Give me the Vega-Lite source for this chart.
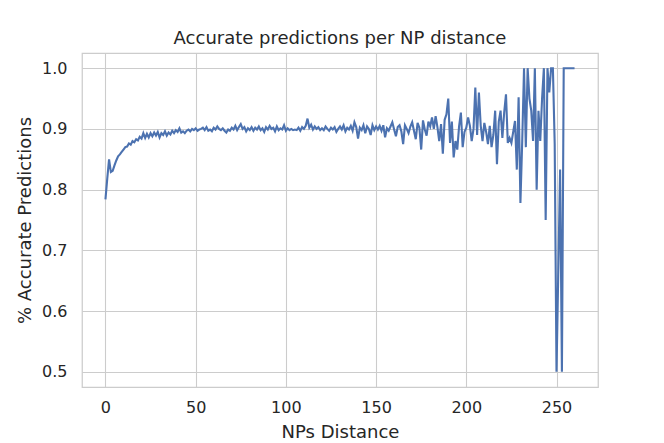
{
  "$schema": "https://vega.github.io/schema/vega-lite/v6.json",
  "width": 516,
  "height": 334,
  "autosize": {"type": "none"},
  "padding": {"left": 82, "top": 53, "right": 66, "bottom": 56},
  "background": "white",
  "title": {
    "text": "Accurate predictions per NP distance",
    "font": "DejaVu Sans",
    "fontSize": 18,
    "fontWeight": "normal",
    "color": "#262626",
    "anchor": "middle",
    "offset": 5
  },
  "config": {
    "view": {"stroke": "#cccccc", "strokeWidth": 1.25},
    "axis": {
      "domain": false,
      "ticks": false,
      "grid": true,
      "gridColor": "#cccccc",
      "gridWidth": 1.1,
      "labelFont": "DejaVu Sans",
      "labelFontSize": 16,
      "labelColor": "#262626",
      "titleFont": "DejaVu Sans",
      "titleFontSize": 18,
      "titleFontWeight": "normal",
      "titleColor": "#262626"
    }
  },
  "data": {
    "values": [
      {"d": 0, "acc": 0.784}, {"d": 1, "acc": 0.818}, {"d": 2, "acc": 0.850}, {"d": 3, "acc": 0.829},
      {"d": 4, "acc": 0.831}, {"d": 5, "acc": 0.840}, {"d": 6, "acc": 0.848}, {"d": 7, "acc": 0.855},
      {"d": 8, "acc": 0.858}, {"d": 9, "acc": 0.862}, {"d": 10, "acc": 0.866}, {"d": 11, "acc": 0.870},
      {"d": 12, "acc": 0.871}, {"d": 13, "acc": 0.876}, {"d": 14, "acc": 0.874}, {"d": 15, "acc": 0.880},
      {"d": 16, "acc": 0.878}, {"d": 17, "acc": 0.883}, {"d": 18, "acc": 0.881}, {"d": 19, "acc": 0.887},
      {"d": 20, "acc": 0.884}, {"d": 21, "acc": 0.893}, {"d": 22, "acc": 0.885}, {"d": 23, "acc": 0.892},
      {"d": 24, "acc": 0.886}, {"d": 25, "acc": 0.893}, {"d": 26, "acc": 0.888}, {"d": 27, "acc": 0.894},
      {"d": 28, "acc": 0.889}, {"d": 29, "acc": 0.895}, {"d": 30, "acc": 0.886}, {"d": 31, "acc": 0.893},
      {"d": 32, "acc": 0.890}, {"d": 33, "acc": 0.896}, {"d": 34, "acc": 0.889}, {"d": 35, "acc": 0.894},
      {"d": 36, "acc": 0.891}, {"d": 37, "acc": 0.897}, {"d": 38, "acc": 0.893}, {"d": 39, "acc": 0.898},
      {"d": 40, "acc": 0.895}, {"d": 41, "acc": 0.901}, {"d": 42, "acc": 0.894}, {"d": 43, "acc": 0.896},
      {"d": 44, "acc": 0.893}, {"d": 45, "acc": 0.897}, {"d": 46, "acc": 0.899}, {"d": 47, "acc": 0.896},
      {"d": 48, "acc": 0.900}, {"d": 49, "acc": 0.898}, {"d": 50, "acc": 0.901}, {"d": 51, "acc": 0.897},
      {"d": 52, "acc": 0.899}, {"d": 53, "acc": 0.900}, {"d": 54, "acc": 0.902}, {"d": 55, "acc": 0.898},
      {"d": 56, "acc": 0.903}, {"d": 57, "acc": 0.897}, {"d": 58, "acc": 0.899}, {"d": 59, "acc": 0.896},
      {"d": 60, "acc": 0.902}, {"d": 61, "acc": 0.899}, {"d": 62, "acc": 0.904}, {"d": 63, "acc": 0.900},
      {"d": 64, "acc": 0.898}, {"d": 65, "acc": 0.901}, {"d": 66, "acc": 0.897}, {"d": 67, "acc": 0.894},
      {"d": 68, "acc": 0.899}, {"d": 69, "acc": 0.897}, {"d": 70, "acc": 0.902}, {"d": 71, "acc": 0.899},
      {"d": 72, "acc": 0.905}, {"d": 73, "acc": 0.898}, {"d": 74, "acc": 0.903}, {"d": 75, "acc": 0.908},
      {"d": 76, "acc": 0.900}, {"d": 77, "acc": 0.903}, {"d": 78, "acc": 0.896}, {"d": 79, "acc": 0.901},
      {"d": 80, "acc": 0.898}, {"d": 81, "acc": 0.903}, {"d": 82, "acc": 0.897}, {"d": 83, "acc": 0.902},
      {"d": 84, "acc": 0.899}, {"d": 85, "acc": 0.904}, {"d": 86, "acc": 0.898}, {"d": 87, "acc": 0.901},
      {"d": 88, "acc": 0.895}, {"d": 89, "acc": 0.903}, {"d": 90, "acc": 0.899}, {"d": 91, "acc": 0.905},
      {"d": 92, "acc": 0.900}, {"d": 93, "acc": 0.902}, {"d": 94, "acc": 0.896}, {"d": 95, "acc": 0.904},
      {"d": 96, "acc": 0.898}, {"d": 97, "acc": 0.901}, {"d": 98, "acc": 0.899}, {"d": 99, "acc": 0.906},
      {"d": 100, "acc": 0.897}, {"d": 101, "acc": 0.901}, {"d": 102, "acc": 0.898}, {"d": 103, "acc": 0.900},
      {"d": 104, "acc": 0.898}, {"d": 105, "acc": 0.899}, {"d": 106, "acc": 0.898}, {"d": 107, "acc": 0.902},
      {"d": 108, "acc": 0.897}, {"d": 109, "acc": 0.903}, {"d": 110, "acc": 0.900}, {"d": 111, "acc": 0.905},
      {"d": 112, "acc": 0.917}, {"d": 113, "acc": 0.902}, {"d": 114, "acc": 0.907}, {"d": 115, "acc": 0.899},
      {"d": 116, "acc": 0.904}, {"d": 117, "acc": 0.900}, {"d": 118, "acc": 0.903}, {"d": 119, "acc": 0.898},
      {"d": 120, "acc": 0.901}, {"d": 121, "acc": 0.898}, {"d": 122, "acc": 0.904}, {"d": 123, "acc": 0.900},
      {"d": 124, "acc": 0.897}, {"d": 125, "acc": 0.902}, {"d": 126, "acc": 0.899}, {"d": 127, "acc": 0.903},
      {"d": 128, "acc": 0.895}, {"d": 129, "acc": 0.900}, {"d": 130, "acc": 0.904}, {"d": 131, "acc": 0.899},
      {"d": 132, "acc": 0.906}, {"d": 133, "acc": 0.896}, {"d": 134, "acc": 0.902}, {"d": 135, "acc": 0.899},
      {"d": 136, "acc": 0.905}, {"d": 137, "acc": 0.897}, {"d": 138, "acc": 0.911}, {"d": 139, "acc": 0.903},
      {"d": 140, "acc": 0.884}, {"d": 141, "acc": 0.902}, {"d": 142, "acc": 0.898}, {"d": 143, "acc": 0.906},
      {"d": 144, "acc": 0.893}, {"d": 145, "acc": 0.904}, {"d": 146, "acc": 0.900}, {"d": 147, "acc": 0.890},
      {"d": 148, "acc": 0.906}, {"d": 149, "acc": 0.898}, {"d": 150, "acc": 0.904}, {"d": 151, "acc": 0.899},
      {"d": 152, "acc": 0.905}, {"d": 153, "acc": 0.897}, {"d": 154, "acc": 0.906}, {"d": 155, "acc": 0.886},
      {"d": 156, "acc": 0.901}, {"d": 157, "acc": 0.897}, {"d": 158, "acc": 0.904}, {"d": 159, "acc": 0.911},
      {"d": 160, "acc": 0.899}, {"d": 161, "acc": 0.888}, {"d": 162, "acc": 0.903}, {"d": 163, "acc": 0.906},
      {"d": 164, "acc": 0.896}, {"d": 165, "acc": 0.875}, {"d": 166, "acc": 0.906}, {"d": 167, "acc": 0.900},
      {"d": 168, "acc": 0.893}, {"d": 169, "acc": 0.904}, {"d": 170, "acc": 0.911}, {"d": 171, "acc": 0.897},
      {"d": 172, "acc": 0.883}, {"d": 173, "acc": 0.910}, {"d": 174, "acc": 0.902}, {"d": 175, "acc": 0.866},
      {"d": 176, "acc": 0.914}, {"d": 177, "acc": 0.899}, {"d": 178, "acc": 0.889}, {"d": 179, "acc": 0.912},
      {"d": 180, "acc": 0.904}, {"d": 181, "acc": 0.919}, {"d": 182, "acc": 0.900}, {"d": 183, "acc": 0.921},
      {"d": 184, "acc": 0.903}, {"d": 185, "acc": 0.880}, {"d": 186, "acc": 0.908}, {"d": 187, "acc": 0.859},
      {"d": 188, "acc": 0.915}, {"d": 189, "acc": 0.924}, {"d": 190, "acc": 0.950}, {"d": 191, "acc": 0.877},
      {"d": 192, "acc": 0.912}, {"d": 193, "acc": 0.853}, {"d": 194, "acc": 0.880}, {"d": 195, "acc": 0.866},
      {"d": 196, "acc": 0.904}, {"d": 197, "acc": 0.927}, {"d": 198, "acc": 0.870}, {"d": 199, "acc": 0.895},
      {"d": 200, "acc": 0.902}, {"d": 201, "acc": 0.919}, {"d": 202, "acc": 0.905}, {"d": 203, "acc": 0.880},
      {"d": 204, "acc": 0.900}, {"d": 205, "acc": 0.968}, {"d": 206, "acc": 0.890}, {"d": 207, "acc": 0.960},
      {"d": 208, "acc": 0.905}, {"d": 209, "acc": 0.880}, {"d": 210, "acc": 0.910}, {"d": 211, "acc": 0.895},
      {"d": 212, "acc": 0.875}, {"d": 213, "acc": 0.905}, {"d": 214, "acc": 0.870}, {"d": 215, "acc": 0.890},
      {"d": 216, "acc": 0.930}, {"d": 217, "acc": 0.842}, {"d": 218, "acc": 0.912}, {"d": 219, "acc": 0.930},
      {"d": 220, "acc": 0.885}, {"d": 221, "acc": 0.927}, {"d": 222, "acc": 0.957}, {"d": 223, "acc": 0.877},
      {"d": 224, "acc": 0.885}, {"d": 225, "acc": 0.877}, {"d": 226, "acc": 0.895}, {"d": 227, "acc": 0.913},
      {"d": 228, "acc": 0.833}, {"d": 229, "acc": 0.952}, {"d": 230, "acc": 0.778}, {"d": 231, "acc": 0.880},
      {"d": 232, "acc": 1.0}, {"d": 233, "acc": 0.870}, {"d": 234, "acc": 1.0}, {"d": 235, "acc": 0.950},
      {"d": 236, "acc": 0.930}, {"d": 237, "acc": 0.880}, {"d": 238, "acc": 1.0}, {"d": 239, "acc": 0.800},
      {"d": 240, "acc": 0.930}, {"d": 241, "acc": 0.880}, {"d": 242, "acc": 0.950}, {"d": 243, "acc": 1.0},
      {"d": 244, "acc": 0.750}, {"d": 245, "acc": 1.0}, {"d": 246, "acc": 0.960}, {"d": 247, "acc": 1.0},
      {"d": 248, "acc": 1.0}, {"d": 249, "acc": 0.875}, {"d": 250, "acc": 0.5}, {"d": 252, "acc": 0.833},
      {"d": 253, "acc": 0.5}, {"d": 254, "acc": 1.0}, {"d": 255, "acc": 1.0}, {"d": 256, "acc": 1.0},
      {"d": 257, "acc": 1.0}, {"d": 258, "acc": 1.0}, {"d": 259, "acc": 1.0}, {"d": 260, "acc": 1.0}
    ]
  },
  "mark": {"type": "line", "color": "#4c72b0", "strokeWidth": 2.1, "clip": true},
  "encoding": {
    "x": {
      "field": "d",
      "type": "quantitative",
      "scale": {"domain": [-13, 273], "nice": false, "zero": false},
      "axis": {"title": "NPs Distance", "values": [0, 50, 100, 150, 200, 250], "labelPadding": 12, "titlePadding": 8}
    },
    "y": {
      "field": "acc",
      "type": "quantitative",
      "scale": {"domain": [0.475, 1.025], "nice": false, "zero": false},
      "axis": {"title": "% Accurate Predictions", "values": [0.5, 0.6, 0.7, 0.8, 0.9, 1.0], "format": ".1f", "labelPadding": 15, "titlePadding": 7}
    }
  }
}
